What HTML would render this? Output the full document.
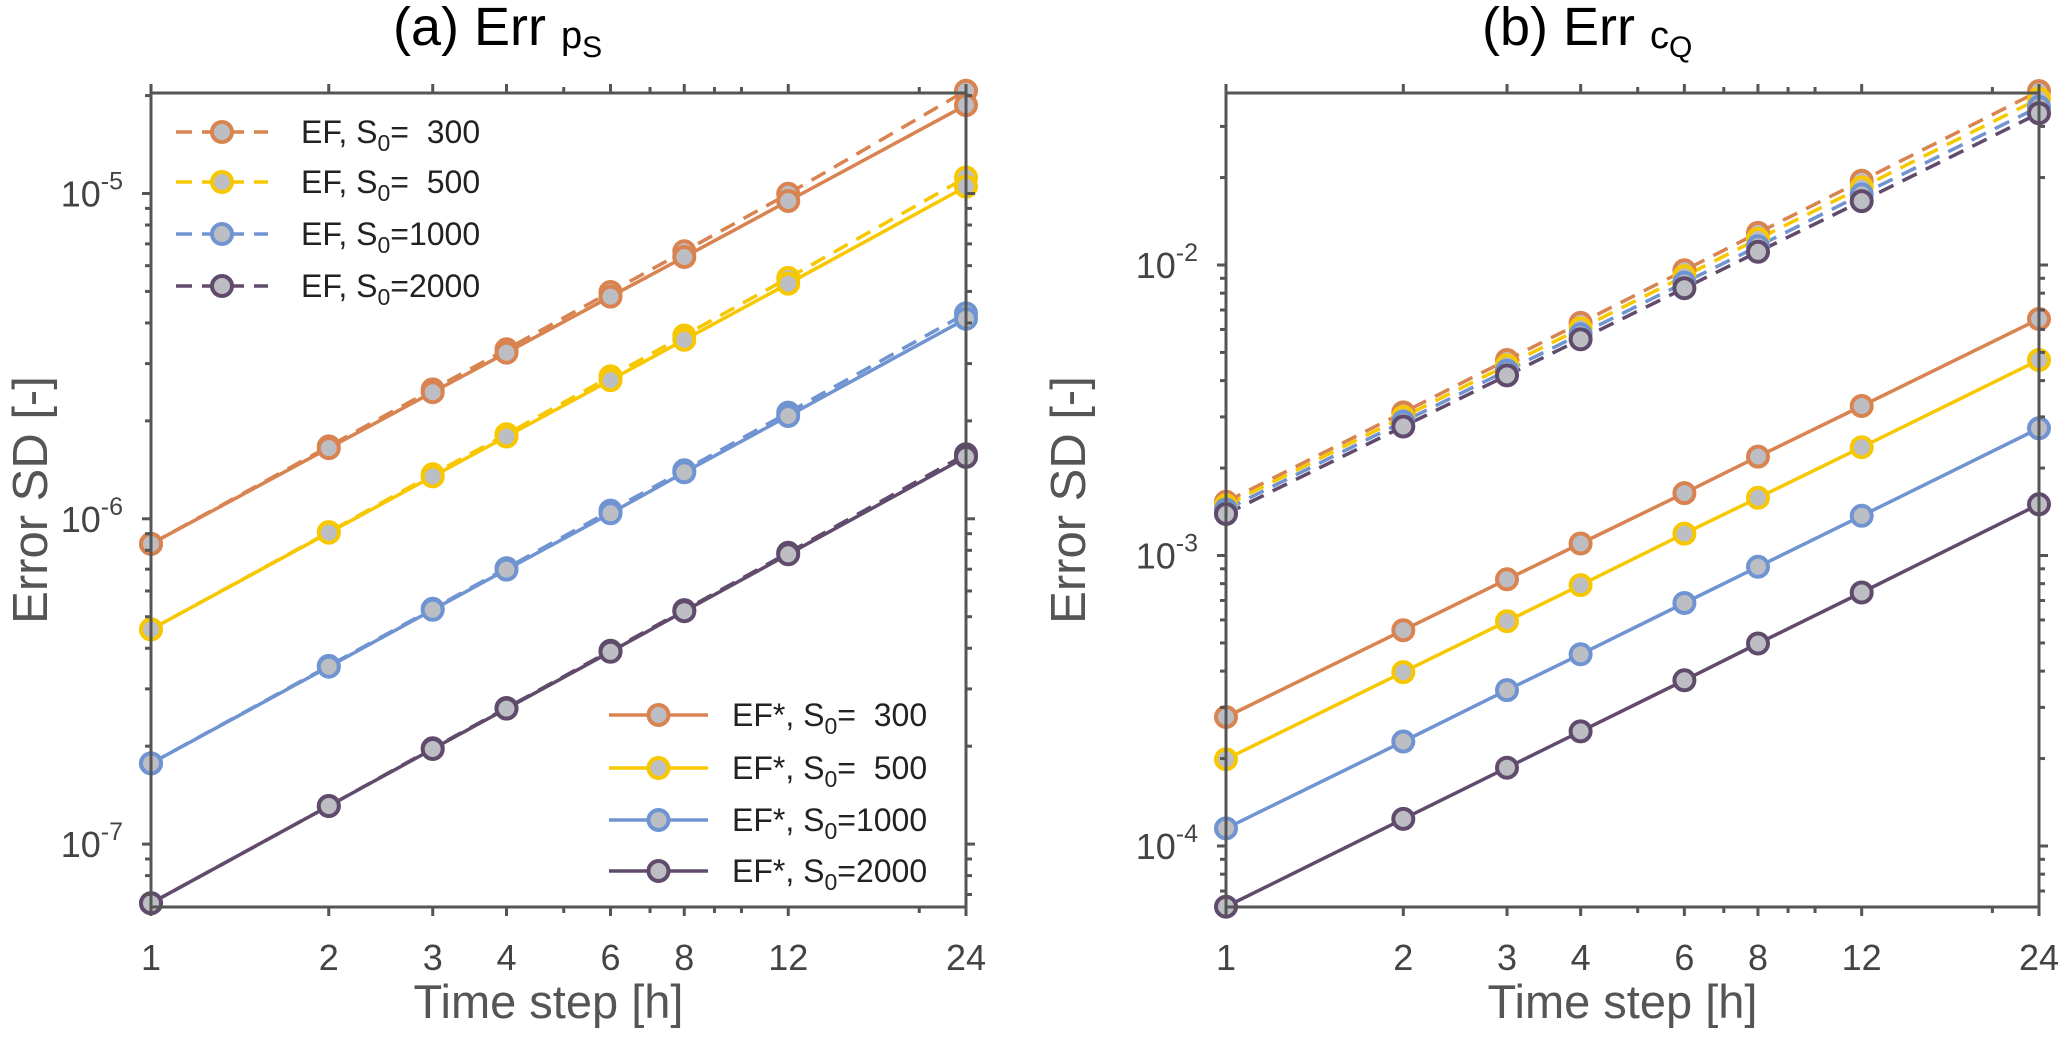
<!DOCTYPE html>
<html><head><meta charset="utf-8"><style>
html,body{margin:0;padding:0;background:#fff;}
svg{display:block;font-family:"Liberation Sans Narrow","Liberation Sans",sans-serif;}
text{white-space:pre;}
</style></head><body>
<svg id="chart" width="2066" height="1042" viewBox="0 0 2066 1042" xmlns="http://www.w3.org/2000/svg"></svg>
<script>
const xCats = [1, 2, 3, 4, 6, 8, 12, 24];
const xTickLabels = ["1","2","3","4","6","8","12","24"];
const xMinor = [5, 7, 9, 10, 20];
const seriesNames = ["300", "500", "1000", "2000"];
const colors = ["#D98350", "#F7C800", "#7094D2", "#614B6C"];
// Panel (a) Err pS
const aEF300 = [8.37e-7,1.67e-6,2.50e-6,3.32e-6,4.98e-6,6.64e-6,9.98e-6,2.07e-5];
const aEF500 = [4.57e-7,9.10e-7,1.37e-6,1.82e-6,2.74e-6,3.66e-6,5.50e-6,1.12e-5];
const aEF1000 = [1.77e-7,3.53e-7,5.29e-7,7.05e-7,1.06e-6,1.41e-6,2.12e-6,4.28e-6];
const aEF2000 = [6.58e-8,1.31e-7,1.97e-7,2.62e-7,3.93e-7,5.24e-7,7.86e-7,1.58e-6];
const aEFs300 = [8.37e-7,1.65e-6,2.45e-6,3.24e-6,4.82e-6,6.38e-6,9.48e-6,1.87e-5];
const aEFs500 = [4.57e-7,9.06e-7,1.35e-6,1.79e-6,2.67e-6,3.55e-6,5.28e-6,1.05e-5];
const aEFs1000 = [1.77e-7,3.51e-7,5.25e-7,6.98e-7,1.04e-6,1.39e-6,2.07e-6,4.12e-6];
const aEFs2000 = [6.58e-8,1.31e-7,1.96e-7,2.61e-7,3.90e-7,5.20e-7,7.78e-7,1.55e-6];
// Panel (b) Err cQ
const bEF300 = [1.53e-3,3.11e-3,4.71e-3,6.32e-3,9.59e-3,1.29e-2,1.95e-2,3.97e-2];
const bEF500 = [1.49e-3,3.00e-3,4.52e-3,6.05e-3,9.15e-3,1.23e-2,1.85e-2,3.74e-2];
const bEF1000 = [1.44e-3,2.89e-3,4.33e-3,5.78e-3,8.70e-3,1.16e-2,1.75e-2,3.50e-2];
const bEF2000 = [1.39e-3,2.78e-3,4.17e-3,5.55e-3,8.32e-3,1.11e-2,1.66e-2,3.33e-2];
const bEFs300 = [2.78e-4,5.53e-4,8.28e-4,1.10e-3,1.64e-3,2.19e-3,3.27e-3,6.52e-3];
const bEFs500 = [1.99e-4,3.97e-4,5.94e-4,7.91e-4,1.19e-3,1.58e-3,2.36e-3,4.71e-3];
const bEFs1000 = [1.15e-4,2.29e-4,3.44e-4,4.57e-4,6.86e-4,9.14e-4,1.37e-3,2.74e-3];
const bEFs2000 = [6.18e-5,1.24e-4,1.86e-4,2.48e-4,3.72e-4,4.98e-4,7.46e-4,1.50e-3];
const aDecades = [-5, -6, -7];
const bDecades = [-2, -3, -4];

const NS = "http://www.w3.org/2000/svg";
const svg = document.getElementById("chart");
function mk(tag, attrs, parent) {
  const e = document.createElementNS(NS, tag);
  for (const k in attrs) e.setAttribute(k, attrs[k]);
  (parent || svg).appendChild(e);
  return e;
}

function panel(cfg) {
  const g = mk("g", {});
  
  
  const L = cfg.left, R = cfg.right, T = 93, B = 907;
  const lx = Math.log(24);
  const xs = v => L + (R - L) * Math.log(v) / lx;
  const ys = v => cfg.y0 - (Math.log10(v) - cfg.d0) * cfg.dec;
  const sg = mk("g", {}, g);
  
  
  cfg.dashed.forEach((arr, i) => {
    const pts = xCats.map((x, j) => xs(x).toFixed(1) + "," + ys(arr[j]).toFixed(1)).join(" ");
    const pl = mk("polyline", {points: pts, fill: "none", stroke: colors[i], "stroke-width": 3.5, "stroke-dasharray": "16 10"}, sg);
    
    
  });
  cfg.solid.forEach((arr, i) => {
    const pts = xCats.map((x, j) => xs(x).toFixed(1) + "," + ys(arr[j]).toFixed(1)).join(" ");
    const pl = mk("polyline", {points: pts, fill: "none", stroke: colors[i], "stroke-width": 3.5}, sg);
    
    
  });
  [cfg.dashed, cfg.solid].forEach((set, si) => {
    set.forEach((arr, i) => {
      xCats.forEach((x, j) => {
        const c = mk("circle", {cx: xs(x).toFixed(1), cy: ys(arr[j]).toFixed(1), r: 10, fill: "#BDBEC3", stroke: colors[i], "stroke-width": 4}, sg);
        
        
      });
    });
  });
  const ax = mk("g", {stroke: "#555", "stroke-width": 3, fill: "none"}, g);
  
  
  mk("rect", {x: L, y: T, width: R - L, height: B - T}, ax);
  xCats.forEach((x, i) => {
    const X = xs(x);
    mk("line", {x1: X, y1: B, x2: X, y2: B + 9}, ax);
    mk("line", {x1: X, y1: T, x2: X, y2: T - 9}, ax);
    const t = mk("text", {x: X, y: 970, "text-anchor": "middle", "font-size": 36, fill: "#444"}, g);
    t.textContent = xTickLabels[i];
    
    
  });
  xMinor.forEach(x => {
    const X = xs(x);
    mk("line", {x1: X, y1: B, x2: X, y2: B + 6}, ax);
    mk("line", {x1: X, y1: T, x2: X, y2: T - 6}, ax);
  });
  const lo = Math.floor(cfg.d0 - (B - cfg.y0) / cfg.dec) - 1, hi = Math.ceil(cfg.d0 + (cfg.y0 - T) / cfg.dec);
  for (let d = lo; d <= hi; d++) {
    for (let m = 1; m <= 9; m++) {
      const Y = ys(m * Math.pow(10, d));
      if (Y < T - 0.5 || Y > B + 0.5) continue;
      const len = m === 1 ? 9 : 6;
      mk("line", {x1: L, y1: Y, x2: L - len, y2: Y}, ax);
      mk("line", {x1: R, y1: Y, x2: R + len, y2: Y}, ax);
    }
  }
  cfg.decades.forEach(d => {
    const Y = ys(Math.pow(10, d));
    const t = mk("text", {x: L - 28, y: Y + 13, "text-anchor": "end", "font-size": 36, fill: "#444"}, g);
    
    
    const a = mk("tspan", {}, t); a.textContent = "10";
    const b = mk("tspan", {dy: -17, "font-size": 25}, t); b.textContent = String(d);
  });
  const xt = mk("text", {x: (L + R) / 2 - 10, y: 1018, "text-anchor": "middle", "font-size": 47, fill: "#555"}, g);
  xt.textContent = "Time step [h]";
  
  
  const yt = mk("text", {x: 0, y: 0, "text-anchor": "middle", "font-size": 49, fill: "#555", transform: `translate(${cfg.ylx},500) rotate(-90)`}, g);
  yt.textContent = "Error SD [-]";
  
  
  const tt = mk("text", {x: cfg.tx, y: 45, "font-size": 54, fill: "#000"}, g);
  
  
  const t1 = mk("tspan", {}, tt); t1.textContent = cfg.t1 + " ";
  const t2 = mk("tspan", {dy: 3, "font-size": 38}, tt); t2.textContent = cfg.t2;
  const t3 = mk("tspan", {dy: 9, "font-size": 30}, tt); t3.textContent = cfg.t3;
}

panel({name: "panel-a", left: 151, right: 966, y0: 193.5, d0: -5, dec: 325.3, decades: aDecades,
  dashed: [aEF300, aEF500, aEF1000, aEF2000], solid: [aEFs300, aEFs500, aEFs1000, aEFs2000],
  ylx: 47, tx: 393, t1: "(a) Err", t2: "p", t3: "S"});
panel({name: "panel-b", left: 1226, right: 2039, y0: 265, d0: -2, dec: 290.5, decades: bDecades,
  dashed: [bEF300, bEF500, bEF1000, bEF2000], solid: [bEFs300, bEFs500, bEFs1000, bEFs2000],
  ylx: 1085, tx: 1482, t1: "(b) Err", t2: "c", t3: "Q"});

function legend(name, entries, x1, x2, tx, ys0, dash) {
  const g = mk("g", {});
  
  
  entries.forEach((lab, i) => {
    const Y = ys0[i];
    const e = mk("g", {}, g);
    
    
    const ln = {x1: x1, y1: Y, x2: x2, y2: Y, stroke: colors[i], "stroke-width": 3.5};
    if (dash) ln["stroke-dasharray"] = "16 10";
    mk("line", ln, e);
    mk("circle", {cx: (x1 + x2) / 2, cy: Y, r: 10, fill: "#BDBEC3", stroke: colors[i], "stroke-width": 4}, e);
    const t = mk("text", {x: tx, y: Y + 11, "font-size": 32, fill: "#222"}, e);
    const a = mk("tspan", {}, t); a.textContent = lab[0] + ", S";
    const b = mk("tspan", {dy: 8, "font-size": 23}, t); b.textContent = "0";
    const c = mk("tspan", {dy: -8}, t); c.textContent = "=" + lab[1];
  });
}
legend("legend-ef", [["EF","  300"],["EF","  500"],["EF","1000"],["EF","2000"]], 176, 268, 301, [132, 182, 234, 286], true);
legend("legend-ef-star", [["EF*","  300"],["EF*","  500"],["EF*","1000"],["EF*","2000"]], 609, 708, 732, [715, 768, 820, 871], false);
</script>
</body></html>
